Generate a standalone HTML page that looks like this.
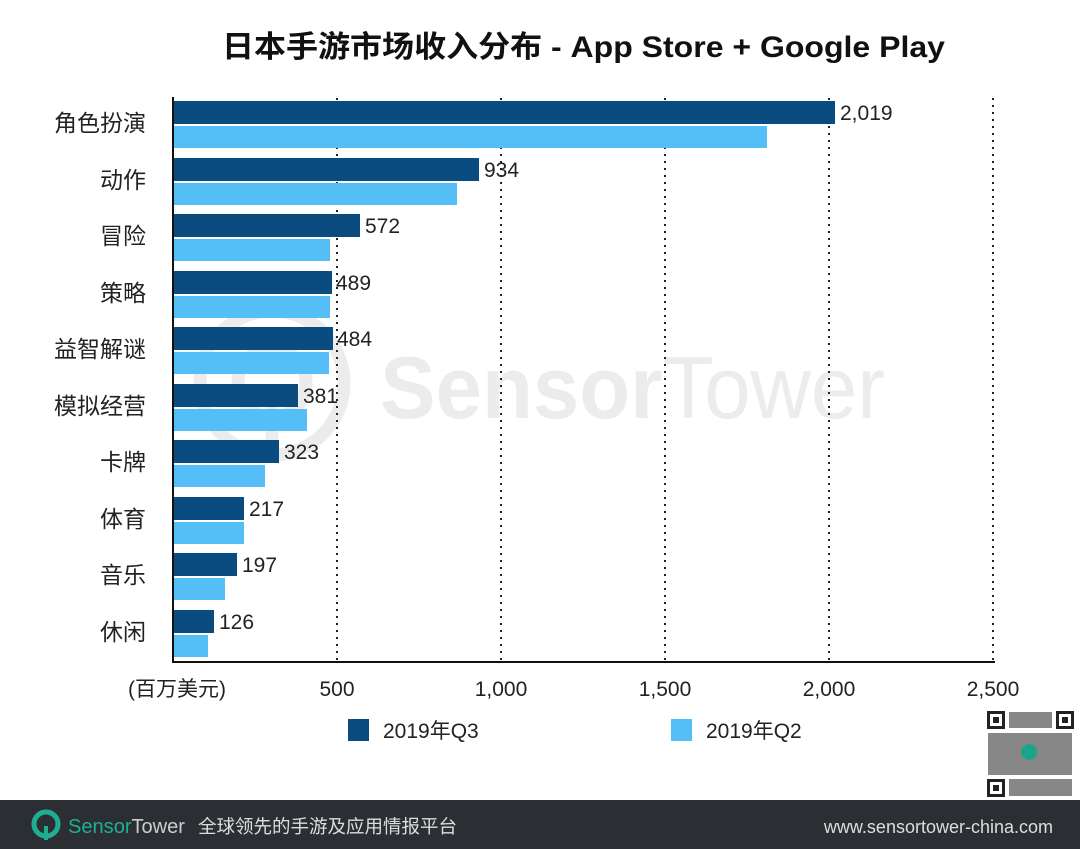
<!DOCTYPE html>
<html><head><meta charset="utf-8"><style>
html,body{margin:0;padding:0;background:#fff;}
svg{display:block;}
text{font-family:"Liberation Sans","Noto Sans CJK SC",sans-serif;}
</style></head><body>
<svg width="1080" height="849" viewBox="0 0 1080 849" xmlns="http://www.w3.org/2000/svg">
<rect width="1080" height="849" fill="#fff"/>
<!-- watermark -->
<g>
<circle cx="272" cy="383" r="72" fill="none" stroke="#ececec" stroke-width="13"/>
<path d="M272 462 V395" stroke="#ececec" stroke-width="13" fill="none"/>
<circle cx="272" cy="383" r="34" fill="none" stroke="#ececec" stroke-width="13"/>
<text x="380" y="418" font-size="88" font-weight="bold" fill="#ececec" textLength="505" lengthAdjust="spacingAndGlyphs">Sensor<tspan font-weight="normal">Tower</tspan></text>
</g>
<text x="222" y="57" font-size="30" font-weight="bold" fill="#111" textLength="723" lengthAdjust="spacingAndGlyphs">日本手游市场收入分布 - App Store + Google Play</text>
<!-- gridlines -->
<g stroke="#222" stroke-width="2" stroke-dasharray="2,5">
<line x1="337" y1="98" x2="337" y2="662"/>
<line x1="501" y1="98" x2="501" y2="662"/>
<line x1="665" y1="98" x2="665" y2="662"/>
<line x1="829" y1="98" x2="829" y2="662"/>
<line x1="993" y1="98" x2="993" y2="662"/>
</g>
<g fill="#0b4c80">
<rect x="174" y="101" width="661" height="23"/>
<rect x="174" y="158" width="305" height="23"/>
<rect x="174" y="214" width="186" height="23"/>
<rect x="174" y="271" width="158" height="23"/>
<rect x="174" y="327" width="159" height="23"/>
<rect x="174" y="384" width="124" height="23"/>
<rect x="174" y="440" width="105" height="23"/>
<rect x="174" y="497" width="70" height="23"/>
<rect x="174" y="553" width="63" height="23"/>
<rect x="174" y="610" width="40" height="23"/>
</g>
<g fill="#55bef7">
<rect x="174" y="126" width="593" height="22"/>
<rect x="174" y="183" width="283" height="22"/>
<rect x="174" y="239" width="156" height="22"/>
<rect x="174" y="296" width="156" height="22"/>
<rect x="174" y="352" width="155" height="22"/>
<rect x="174" y="409" width="133" height="22"/>
<rect x="174" y="465" width="91" height="22"/>
<rect x="174" y="522" width="70" height="22"/>
<rect x="174" y="578" width="51" height="22"/>
<rect x="174" y="635" width="34" height="22"/>
</g>
<line x1="173" y1="97" x2="173" y2="663" stroke="#111" stroke-width="2"/>
<line x1="172" y1="662" x2="995" y2="662" stroke="#111" stroke-width="2"/>
<g font-size="21" fill="#222">
<text x="840" y="120">2,019</text>
<text x="484" y="177">934</text>
<text x="365" y="233">572</text>
<text x="336" y="290">489</text>
<text x="337" y="346">484</text>
<text x="303" y="403">381</text>
<text x="284" y="459">323</text>
<text x="249" y="516">217</text>
<text x="242" y="572">197</text>
<text x="219" y="629">126</text>
</g>
<g font-size="23" fill="#222" text-anchor="end">
<text x="146" y="131">角色扮演</text>
<text x="146" y="188">动作</text>
<text x="146" y="244">冒险</text>
<text x="146" y="301">策略</text>
<text x="146" y="357">益智解谜</text>
<text x="146" y="414">模拟经营</text>
<text x="146" y="470">卡牌</text>
<text x="146" y="527">体育</text>
<text x="146" y="583">音乐</text>
<text x="146" y="640">休闲</text>
</g>
<g font-size="21" fill="#222" text-anchor="middle">
<text x="177" y="696">(百万美元)</text>
<text x="337" y="696">500</text>
<text x="501" y="696">1,000</text>
<text x="665" y="696">1,500</text>
<text x="829" y="696">2,000</text>
<text x="993" y="696">2,500</text>
</g>
<rect x="348" y="719" width="21" height="22" fill="#0b4c80"/>
<text x="383" y="738" font-size="21" fill="#222">2019年Q3</text>
<rect x="671" y="719" width="21" height="22" fill="#55bef7"/>
<text x="706" y="738" font-size="21" fill="#222">2019年Q2</text>
<!-- QR -->
<g>
<rect x="987" y="711" width="87" height="86" fill="#fff"/>
<g fill="#222">
<rect x="987" y="711" width="18" height="18"/><rect x="1056" y="711" width="18" height="18"/><rect x="987" y="779" width="18" height="18"/>
</g>
<g fill="#fff"><rect x="990" y="714" width="12" height="12"/><rect x="1059" y="714" width="12" height="12"/><rect x="990" y="782" width="12" height="12"/></g>
<g fill="#222"><rect x="993" y="717" width="6" height="6"/><rect x="1062" y="717" width="6" height="6"/><rect x="993" y="785" width="6" height="6"/></g>
<g fill="#555" opacity="0.7">
<rect x="1009" y="712" width="43" height="16"/><rect x="988" y="733" width="84" height="42"/><rect x="1009" y="779" width="63" height="17"/>
</g>
<circle cx="1029" cy="752" r="8" fill="#1aa58a"/>
</g>
<!-- footer -->
<rect x="0" y="800" width="1080" height="49" fill="#2b2f33"/>
<circle cx="46" cy="824" r="12" fill="none" stroke="#1fae91" stroke-width="5"/>
<line x1="46" y1="826" x2="46" y2="840" stroke="#1fae91" stroke-width="4"/>
<text x="68" y="833" font-size="20" fill="#1fae91" textLength="117" lengthAdjust="spacingAndGlyphs">Sensor<tspan fill="#ccc">Tower</tspan></text>
<text x="198" y="833" font-size="18.5" fill="#ddd">全球领先的手游及应用情报平台</text>
<text x="1053" y="833" font-size="18" fill="#ddd" text-anchor="end">www.sensortower-china.com</text>
</svg>
</body></html>
